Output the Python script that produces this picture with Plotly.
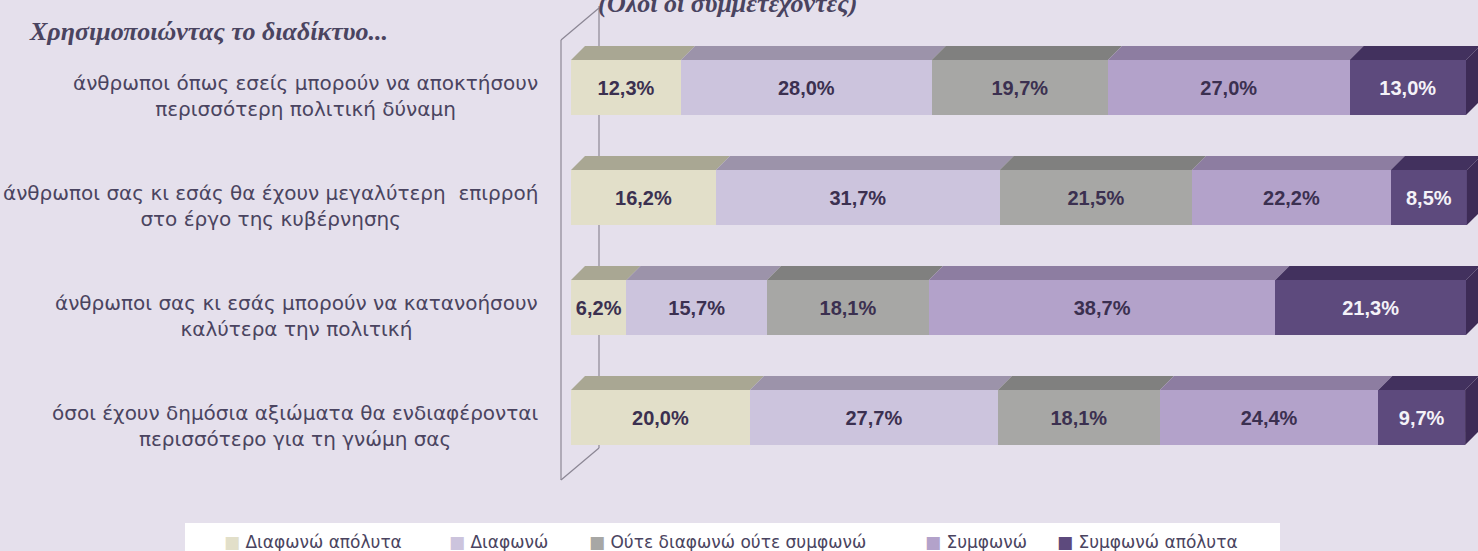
import plotly.graph_objects as go

# questions (top to bottom)
questions = [
    "άνθρωποι όπως εσείς μπορούν να αποκτήσουν<br>περισσότερη πολιτική δύναμη",
    "άνθρωποι σας κι εσάς θα έχουν μεγαλύτερη  επιρροή<br>στο έργο της κυβέρνησης",
    "άνθρωποι σας κι εσάς μπορούν να κατανοήσουν<br>καλύτερα την πολιτική",
    "όσοι έχουν δημόσια αξιώματα θα ενδιαφέρονται<br>περισσότερο για τη γνώμη σας",
]
categories = ["Διαφωνώ απόλυτα", "Διαφωνώ", "Ούτε διαφωνώ ούτε συμφωνώ", "Συμφωνώ", "Συμφωνώ απόλυτα"]

disagree_fully = [12.3, 16.2, 6.2, 20.0]
disagree = [28.0, 31.7, 15.7, 27.7]
neutral = [19.7, 21.5, 18.1, 18.1]
agree = [27.0, 22.2, 38.7, 24.4]
agree_fully = [13.0, 8.5, 21.3, 9.7]
series = [disagree_fully, disagree, neutral, agree, agree_fully]

title_text = "Χρησιμοποιώντας το διαδίκτυο..."
subtitle_text = "(Όλοι οι συμμετέχοντες)"

# colours: front face, top face, label colour
front_colors = ["#E2DFC9", "#CCC4DD", "#A7A7A5", "#B3A2CA", "#5D4A7D"]
top_colors = ["#A9A793", "#9C93AA", "#80807F", "#8D7DA1", "#42315E"]
text_colors = ["#3B3050", "#3B3050", "#3B3050", "#3B3050", "#F4F2F8"]
side_color = "#3D2B56"
bg = "#E5E0EC"
ink = "#4A4460"

# pixel geometry of the page
W, H = 1478, 551
X0_PX, PX_PER_PCT = 571, 8.95
ROW0_PX, ROW_STEP = 87.5, 110
DEPTH = 14  # 3d depth in px


def dx(px):
    return (px - X0_PX) / PX_PER_PCT


def dy(py):
    return (py - ROW0_PX) / ROW_STEP


ddx = DEPTH / PX_PER_PCT
ddy = DEPTH / ROW_STEP
bar_w = 0.5
rows = list(range(len(questions)))

fig = go.Figure()
for name, vals, col, tcol in zip(categories, series, front_colors, text_colors):
    fig.add_trace(go.Bar(
        y=rows, x=vals, name=name, orientation="h", width=bar_w,
        marker=dict(color=col, line=dict(width=0)),
        texttemplate="%{x:.1f}%", textposition="inside", insidetextanchor="middle",
        textfont=dict(family="Liberation Sans, Arial", size=20, color=tcol, weight="bold"),
        showlegend=False, hoverinfo="skip",
    ))

shapes = []
wall = dict(type="line", xref="x", yref="y", layer="below", line=dict(color="#8C8795", width=1.2))
# back wall and floor/front edges
shapes.append({**wall, "x0": dx(599), "y0": dy(6), "x1": dx(599), "y1": dy(448)})
shapes.append({**wall, "x0": dx(599), "y0": dy(448), "x1": dx(561), "y1": dy(480)})
shapes.append({**wall, "x0": dx(561), "y0": dy(480), "x1": dx(561), "y1": dy(40)})
shapes.append({**wall, "x0": dx(561), "y0": dy(40), "x1": dx(599), "y1": dy(8)})

# 3d top faces and right side face
for i in rows:
    y_top = i - bar_w / 2
    y_bot = i + bar_w / 2
    base = 0.0
    for vals, tc in zip(series, top_colors):
        x0, x1 = base, base + vals[i]
        path = (f"M{x0},{y_top} L{x1},{y_top} L{x1 + ddx},{y_top - ddy} "
                f"L{x0 + ddx},{y_top - ddy} Z")
        shapes.append(dict(type="path", path=path, xref="x", yref="y", layer="below",
                           fillcolor=tc, line=dict(width=0)))
        base = x1
    path = (f"M{base},{y_top} L{base + ddx},{y_top - ddy} L{base + ddx},{y_bot - ddy} "
            f"L{base},{y_bot} Z")
    shapes.append(dict(type="path", path=path, xref="x", yref="y", layer="above",
                       fillcolor=side_color, line=dict(width=0)))

# legend box
shapes.append(dict(type="rect", xref="paper", yref="paper", layer="below",
                   x0=185 / W, x1=1280 / W, y0=-0.1, y1=1 - 523 / H,
                   fillcolor="white", line=dict(width=0)))

annotations = []
for i, q in enumerate(questions):
    annotations.append(dict(
        x=dx(540), y=i + 8 / ROW_STEP, xref="x", yref="y", text=q, showarrow=False,
        xanchor="right", yanchor="middle", align="center",
        font=dict(family="DejaVu Sans", size=20, color=ink),
    ))

annotations.append(dict(
    x=27 / W, y=1 - 32 / H, xref="paper", yref="paper", text=title_text, showarrow=False,
    xanchor="left", yanchor="middle",
    font=dict(family="Liberation Serif, Times New Roman", size=26, color=ink,
              style="italic", weight="bold"),
))
annotations.append(dict(
    x=596 / W, y=1 - 3 / H, xref="paper", yref="paper", text=subtitle_text, showarrow=False,
    xanchor="left", yanchor="middle",
    font=dict(family="Liberation Serif, Times New Roman", size=26, color=ink,
              style="italic", weight="bold"),
))

# legend entries
legend_x = [222, 447, 587, 923, 1055]
for name, col, lx in zip(categories, front_colors, legend_x):
    annotations.append(dict(
        x=lx / W, y=1 - 542 / H, xref="paper", yref="paper", showarrow=False,
        text=f"<span style='color:{col}'>■</span> {name}",
        xanchor="left", yanchor="middle",
        font=dict(family="DejaVu Sans", size=17, color=ink),
    ))

fig.update_layout(
    width=W, height=H,
    barmode="stack",
    separators=",.",
    paper_bgcolor=bg, plot_bgcolor=bg,
    margin=dict(l=0, r=0, t=0, b=0),
    xaxis=dict(range=[dx(0), dx(W)], visible=False, fixedrange=True),
    yaxis=dict(range=[dy(H), dy(0)], visible=False, fixedrange=True),
    shapes=shapes, annotations=annotations,
    showlegend=False,
)

fig.write_html(
    "out.html",
    config={"displayModeBar": False},
    post_script="document.body.style.margin='0';document.body.style.overflow='hidden';",
)
